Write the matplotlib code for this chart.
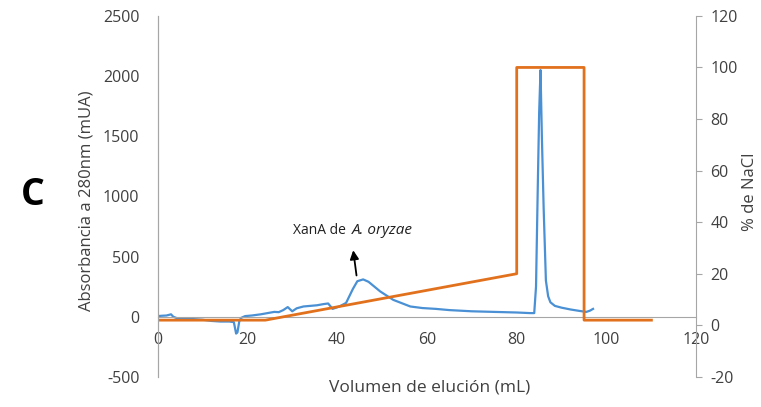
import matplotlib.pyplot as plt

# Absorbance trace (mUA) against elution volume (mL)
abs_vol = [0, 1, 2, 3, 3.5, 4.5, 6, 8, 10, 12, 14, 16, 17, 17.5, 17.8, 18.2,
           18.6, 19.5, 21, 23, 24.5, 26, 27, 28, 29, 30, 31, 32.5, 34, 35.5,
           37, 38, 39, 40.5, 42, 43.5, 44.5, 45.8, 47, 49.6, 52.5, 56.3, 59,
           62, 65, 70, 75, 80, 83, 83.9, 84.3, 84.7, 85.0, 85.3, 85.6, 86.0,
           86.5, 87.0, 87.5, 88.5, 90, 92, 94, 95.5, 96.3, 97]
abs_mua = [5, 8, 10, 20, 0, -15, -20, -20, -25, -35, -40, -40, -45, -140,
           -130, -40, -10, 5, 10, 20, 30, 40, 38, 55, 80, 45, 70, 85, 90, 95,
           105, 110, 65, 85, 115, 230, 295, 310, 290, 210, 140, 85, 72,
           65, 55, 45, 40, 35, 30, 30, 250, 1100, 1700, 2050, 1500, 900,
           300, 170, 120, 90, 75, 60, 48, 40, 50, 65]

# Salt gradient (% NaCl)
nacl_vol = [0, 24, 80, 80, 95, 95, 110]
nacl_pct = [2, 2, 20, 100, 100, 2, 2]

plt.rcParams['font.family'] = ['Open Sans', 'DejaVu Sans']
plt.rcParams['axes.unicode_minus'] = False

gray = '#A6A6A6'
text_col = '#404040'
blue = '#4A90D4'
orange = '#E2711D'

fig = plt.figure(figsize=(7.61, 4.07), dpi=100)
ax = fig.add_axes([0.207, 0.074, 0.708, 0.887])
ax2 = ax.twinx()

ax.plot(abs_vol, abs_mua, color=blue, lw=1.6)
ax2.plot(nacl_vol, nacl_pct, color=orange, lw=2.0)

ax.set_xlim(0, 120)
ax.set_ylim(-500, 2500)
ax2.set_ylim(-20, 120)
ax.set_xticks(range(0, 121, 20))
ax.set_yticks(range(-500, 2501, 500))
ax2.set_yticks(range(-20, 121, 20))

# zero line acts as the x axis
ax.spines['bottom'].set_position(('data', 0))
for a in (ax, ax2):
    a.spines['top'].set_visible(False)
    a.spines['bottom'].set_color(gray)
    a.spines['left'].set_color(gray)
    a.spines['right'].set_color(gray)
ax2.spines['bottom'].set_visible(False)
ax.spines['right'].set_visible(False)

ax.tick_params(axis='x', length=0, pad=11, labelsize=11.5, labelcolor=text_col)
ax.tick_params(axis='y', length=0, pad=13, labelsize=11.5, labelcolor=text_col)
ax2.tick_params(axis='y', length=4, color=gray, pad=6, labelsize=11.5,
                labelcolor=text_col)

# axis titles
fig.text(0.565, 0.047, 'Volumen de elución (mL)', fontsize=12.5,
         color=text_col, ha='center', va='center')
fig.text(0.114, 0.506, 'Absorbancia a 280nm (mUA)', fontsize=12,
         color=text_col, ha='center', va='center', rotation=90)
fig.text(0.9855, 0.528, '% de NaCl', fontsize=12, color=text_col,
         ha='center', va='center', rotation=90)

ax.annotate('', xy=(43.5, 575), xytext=(44.4, 320),
            arrowprops=dict(arrowstyle='-|>', color='black', lw=1.3,
                            mutation_scale=13))
ax.text(42.0, 719, 'XanA de', ha='right', va='center', fontsize=10,
        color='#202020')
ax.text(43.2, 719, 'A. oryzae', ha='left', va='center', fontsize=11,
        style='italic', color='#202020')

fig.text(0.043, 0.52, 'C', fontsize=27, fontweight='bold', ha='center',
         va='center', color='black')

fig.savefig('out.png', dpi=100)
